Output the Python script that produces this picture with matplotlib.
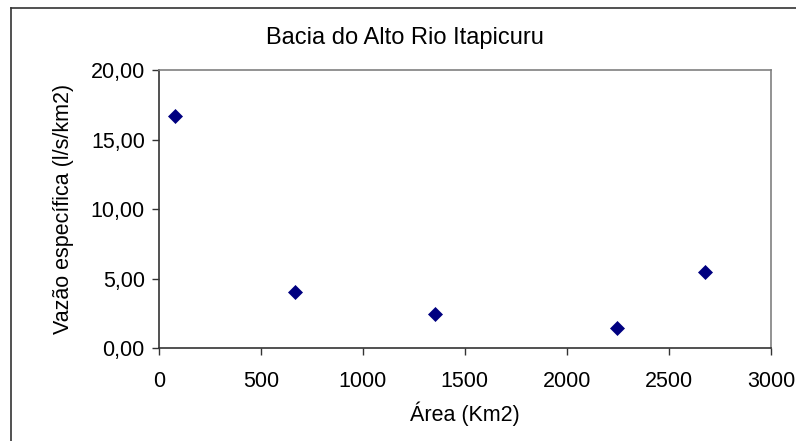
import matplotlib.pyplot as plt
from matplotlib.lines import Line2D
from matplotlib.ticker import FuncFormatter

plt.rcParams['font.family'] = ['Liberation Sans', 'DejaVu Sans']

# Área da bacia (km2) x vazão específica (l/s/km2)
area = [80, 666, 1354, 2244, 2677]
vazao = [16.69, 4.02, 2.46, 1.46, 5.46]

fig = plt.figure(figsize=(7.96, 4.41), dpi=100)
ax = fig.add_axes([0.1994, 0.2102, 0.7692, 0.6311])

ax.plot(area, vazao, linestyle='none', marker='D', markersize=6.8,
        color='#000080', markeredgewidth=0.5, clip_on=False)

ax.set_xlim(0, 3000)
ax.set_ylim(0, 20)
ax.set_xticks([0, 500, 1000, 1500, 2000, 2500, 3000])
ax.set_yticks([0, 5, 10, 15, 20])
ax.yaxis.set_major_formatter(FuncFormatter(lambda v, p: f'{v:.2f}'.replace('.', ',')))

for side in ['left', 'bottom']:
    ax.spines[side].set_color('#333333')
    ax.spines[side].set_linewidth(1.2)
for side in ['top', 'right']:
    ax.spines[side].set_color('#808080')
    ax.spines[side].set_linewidth(1.2)

ax.tick_params(direction='out', length=5, width=1, color='#333333',
               labelsize=15.5, pad=5)
ax.tick_params(axis='x', pad=11)

ax.set_xlabel('Área (Km2)', fontsize=15.5, labelpad=7)
ax.set_ylabel('Vazão específica (l/s/km2)', fontsize=15.5, labelpad=12)
fig.text(0.509, 0.914, 'Bacia do Alto Rio Itapicuru', fontsize=17,
         ha='center', va='center')

# moldura externa do gráfico
fig.add_artist(Line2D([11 / 796, 11 / 796], [0, 1 - 8 / 441],
                      color='#333333', lw=1.2))
fig.add_artist(Line2D([11 / 796, 1], [1 - 8 / 441, 1 - 8 / 441],
                      color='#333333', lw=1.2))

fig.savefig('out.png', dpi=100)
